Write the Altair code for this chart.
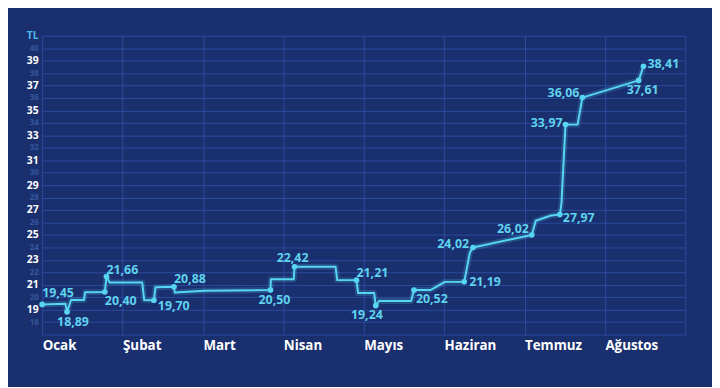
import altair as alt
import pandas as pd

# ---- data ----
month_names = ["Ocak", "Şubat", "Mart", "Nisan", "Mayıs", "Haziran", "Temmuz", "Ağustos"]

# path vertices: position along the year in months (0 = start of Ocak) and TL value
path_month = [0.00, 0.29, 0.31, 0.36, 0.52, 0.535, 0.78, 0.80, 0.84, 1.245,
              1.27, 1.39, 1.41, 1.64, 1.65, 2.02, 2.84, 2.845, 3.13, 3.14,
              3.65, 3.67, 3.91, 3.93, 4.13, 4.15, 4.19, 4.59, 4.625, 4.83,
              5.01, 5.25, 5.32, 5.36, 6.09, 6.14, 6.33, 6.44, 6.46, 6.51,
              6.66, 6.72, 7.42, 7.48]
path_tl = [19.42, 19.47, 18.82, 19.77, 19.77, 20.40, 20.42, 21.66, 21.18, 21.18,
           19.77, 19.75, 20.80, 20.83, 20.38, 20.52, 20.57, 21.44, 21.44, 22.45,
           22.45, 21.37, 21.37, 20.33, 20.33, 19.32, 19.69, 19.69, 20.57, 20.57,
           21.23, 21.23, 23.57, 23.99, 25.00, 26.14, 26.56, 26.64, 27.55, 33.86,
           33.86, 36.03, 37.41, 38.55]
path_label = ["19,45", "", "18,89", "", "", "", "20,40", "21,66", "", "",
              "", "19,70", "", "20,88", "", "", "20,50", "", "", "22,42",
              "", "", "21,21", "", "", "19,24", "", "", "20,52", "",
              "", "21,19", "", "24,02", "26,02", "", "", "27,97", "", "33,97",
              "", "36,06", "37,61", "38,41"]

# ---- label placement (style only): align, dx, dy in pixels ----
placement = {
    "19,45": ("left", 0, -11), "18,89": ("center", 6, 10), "20,40": ("left", 0, 9),
    "21,66": ("left", 0, -7), "19,70": ("left", 4, 6), "20,88": ("left", 0, -8),
    "20,50": ("center", 4, 10), "22,42": ("center", -2, -9), "21,21": ("left", 0, -7),
    "19,24": ("center", -9, 9), "20,52": ("left", 2, 9), "21,19": ("left", 5, 0),
    "24,02": ("right", -4, -4), "26,02": ("right", -3, -6), "27,97": ("left", 3, 4),
    "33,97": ("right", -3, -2), "36,06": ("right", -3, -5), "37,61": ("center", 4, 10),
    "38,41": ("left", 4, -2),
}

df = pd.DataFrame({"i": list(range(len(path_month))), "m": path_month,
                   "tl": path_tl, "label": path_label})

CYAN = "#57d6f2"
LABEL = "#5fd3ef"
GRID = "#2f53ab"
BG = "#1a2f6e"
FONT = "Open Sans"

month_expr = "[" + ",".join("'%s'" % m for m in month_names) + ",''][datum.value]"

x_enc = alt.X("m:Q", scale=alt.Scale(domain=[0, 8], nice=False, zero=False),
              axis=alt.Axis(values=list(range(9)), labelExpr=month_expr, labelAlign="left",
                            labelBaseline="top", labelPadding=4, labelColor="#ffffff",
                            labelFont=FONT, labelFontWeight="bold", labelFontSize=13.5,
                            labelFlush=False, labelOverlap=False, labelBound=False,
                            ticks=False, domain=False, grid=True, gridColor=GRID,
                            gridOpacity=0.8, gridWidth=1, title=None))
y_enc = alt.Y("tl:Q", scale=alt.Scale(domain=[17, 41], nice=False, zero=False),
              axis=alt.Axis(values=list(range(17, 42)),
                            labelExpr="datum.value==41?'TL':(datum.value==17?'':datum.label)",
                            labelColor={"condition": [{"test": "datum.value==41", "value": "#4ab8ec"},
                                                      {"test": "datum.value%2==1", "value": "#ffffff"}],
                                        "value": "#35579f"},
                            labelFontSize={"condition": {"test": "datum.value%2==1", "value": 10.5},
                                           "value": 8},
                            labelFont=FONT, labelFontWeight="bold", labelPadding=4,
                            labelFlush=False, labelOverlap=False, labelBound=False,
                            ticks=False, domain=False, grid=True, gridColor=GRID,
                            gridOpacity=0.8, gridWidth=1, title=None))

base = alt.Chart(df).encode(x=x_enc, y=y_enc, order=alt.Order("i:Q"))

glow = base.mark_line(color=CYAN, strokeWidth=6, opacity=0.18, strokeJoin="round")
line = base.mark_line(color=CYAN, strokeWidth=2, strokeJoin="round")
pts = base.transform_filter("datum.label != ''").mark_circle(size=32, color=CYAN, opacity=1)

layers = [glow, line, pts]
for lab, (a, dx, dy) in placement.items():
    layers.append(
        base.transform_filter("datum.label == '%s'" % lab)
        .mark_text(align=a, baseline="middle", dx=dx, dy=dy, font=FONT,
                   fontWeight="bold", fontSize=12.5, color=LABEL)
        .encode(text="label:N")
    )

chart = alt.layer(*layers).properties(
    width=650, height=302, autosize="none",
    padding={"left": 34.5, "top": 26, "right": 27, "bottom": 51},
).configure(background=BG).configure_view(stroke=None)

chart.save("out.html", embed_options={"renderer": "svg", "actions": False})
